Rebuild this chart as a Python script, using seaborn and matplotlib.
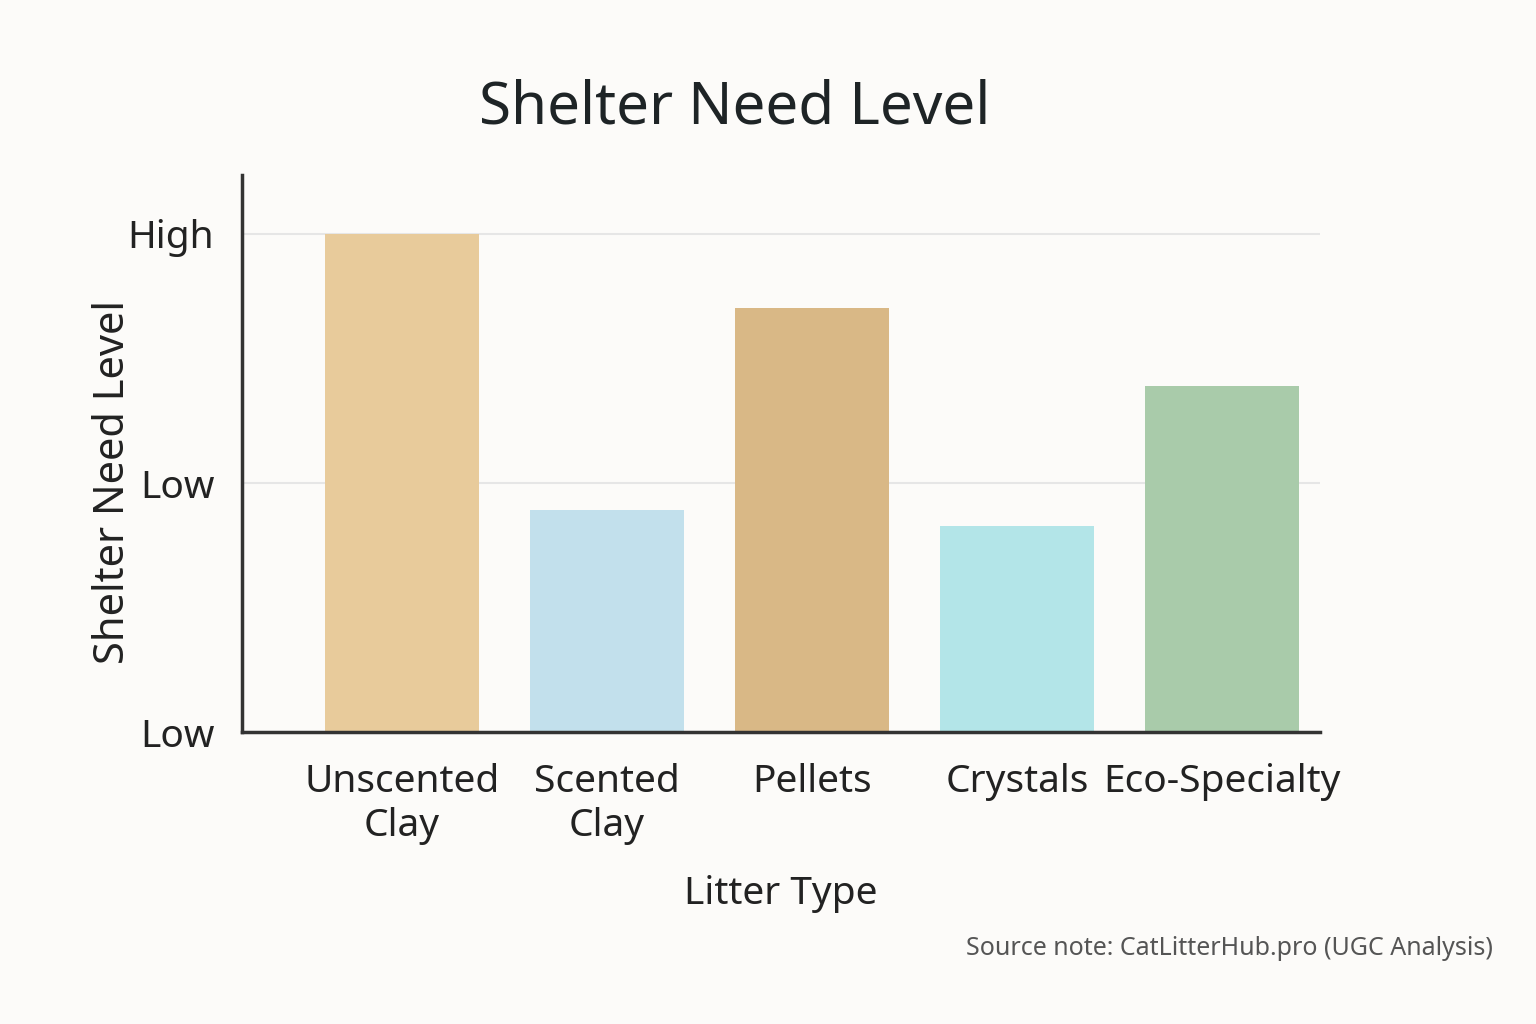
import seaborn as sns
import pandas as pd
import matplotlib.pyplot as plt

litter_types = ['Unscented\nClay', 'Scented\nClay', 'Pellets', 'Crystals', 'Eco-Specialty']
need_level = [1.0, 0.446, 0.851, 0.414, 0.695]
bar_colors = ['#E8CB9B', '#C2E0EC', '#D9B886', '#B3E5E8', '#A9CBAA']
tick_values = [0, 0.5, 1.0]
tick_labels = ['Low', 'Low', 'High']

df = pd.DataFrame({'type': litter_types, 'level': need_level})

plt.rcParams['font.family'] = 'Noto Sans'
bg = '#FCFBF9'
fig = plt.figure(figsize=(15.36, 10.24), dpi=100, facecolor=bg)
ax = fig.add_axes([0.1576, 0.285, 0.702, 0.544], facecolor=bg)

for y in tick_values[1:]:
    ax.axhline(y, color='#E6E6E6', lw=1.5, zorder=0)

sns.barplot(data=df, x='type', y='level', hue='type', palette=bar_colors,
            saturation=1, width=0.75, legend=False, ax=ax, zorder=2)

ax.set_xlim(-0.78, 4.48)
ax.set_ylim(0, 1.118)
ax.set_yticks(tick_values)
ax.set_yticklabels(tick_labels)
ax.tick_params(axis='both', length=0, labelsize=28, colors='#222222')
ax.tick_params(axis='x', pad=22)
ax.tick_params(axis='y', pad=20)

for s in ['top', 'right']:
    ax.spines[s].set_visible(False)
for s in ['left', 'bottom']:
    ax.spines[s].set_color('#333333')
    ax.spines[s].set_linewidth(2.5)

ax.set_xlabel('Litter Type', fontsize=28, color='#222222', labelpad=22)
ax.set_ylabel('Shelter Need Level', fontsize=30, color='#222222')
ax.yaxis.set_label_coords(-0.1, 0.449)

fig.text(0.478, 0.895, 'Shelter Need Level', ha='center', va='center',
         fontsize=42, color='#1E2426')
fig.text(0.972, 0.074, 'Source note: CatLitterHub.pro (UGC Analysis)',
         ha='right', va='center', fontsize=18, color='#555555')

fig.savefig('out.png', dpi=100, facecolor=bg)
